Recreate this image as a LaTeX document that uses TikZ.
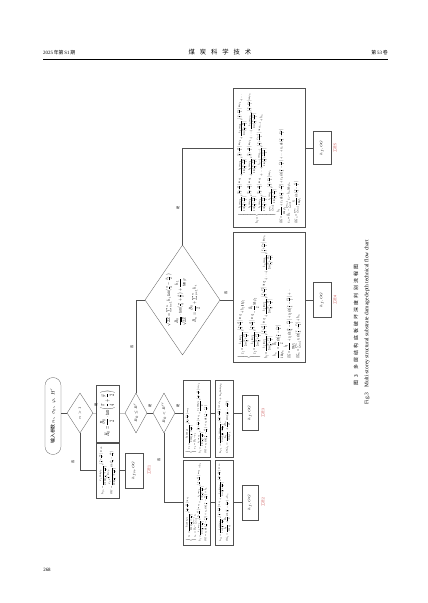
\documentclass[tikz,border=0pt]{standalone}
\usepackage{amsmath}
\usepackage{graphicx}
\usepackage{fontspec}
\setmainfont{Liberation Serif}
\newfontfamily\cjk{Noto Sans CJK SC}
\newfontfamily\cjkcap[LetterSpace=45]{Noto Sans CJK SC}
\usetikzlibrary{positioning,shapes,calc}
\definecolor{gkred}{RGB}{200,70,70}
\definecolor{ln}{RGB}{80,80,80}
\newlength\pu
\setlength\pu{0.05cm}
% terms used in the formula boxes
\newcommand{\tA}[1]{\frac{h_{#1}\cos\varphi_{#1}}{2\cos\left(\frac{\pi}{4}+\frac{\varphi_{#1}}{2}\right)}}
\newcommand{\tE}[1]{e^{\left(\frac{\pi}{4}+\frac{\varphi_{#1}}{2}\right)\tan\varphi_{#1}}}
\newcommand{\tS}[1]{\sin\left(\frac{\pi}{4}-\frac{\varphi_{#1}}{2}\right)}
% squeeze a block of formulas into #1 x #2 px
\newcommand{\fit}[3]{\resizebox*{#1\pu}{#2\pu}{\begin{tabular}{@{}l@{}}#3\end{tabular}}}
\tikzset{
  wh/.style 2 args={minimum width=#2*\pu, minimum height=#1*\pu},
  term/.style={draw=ln, rounded rectangle, rotate=90, inner sep=0pt, font=\cjk\fontsize{7}{8}\selectfont},
  box/.style={draw=ln, rectangle, rotate=90, inner sep=0pt, align=center, font=\fontsize{7}{8.5}\selectfont},
  dec/.style={draw=ln, diamond, rotate=90, inner sep=0pt, aspect=1.47, align=center, font=\fontsize{5}{6}\selectfont},
  res/.style={draw=ln, rectangle, rotate=90, inner sep=0pt, font=\fontsize{4.5}{5}\selectfont},
  yn/.style={rotate=90, inner sep=0.5pt, font=\cjk\fontsize{4.5}{5}\selectfont},
  gk/.style={rotate=90, inner sep=0pt, text=gkred, font=\cjk\fontsize{5}{6}\selectfont},
  con/.style={draw=ln, line width=0.45pt},
}
\begin{document}
\begin{tikzpicture}[x=0.05cm, y=-0.05cm]
\useasboundingbox[fill=white] (0,0) rectangle (427,603);

% running head
\node[anchor=base west, inner sep=0, font=\fontsize{7}{8}\selectfont] (issue) at (43,55) {2025\,{\cjk 年第}\,S1\,{\cjk 期}};
\node[anchor=base, inner sep=0, font=\cjk\fontsize{9}{10}\selectfont] (journal) at (220,55) {煤\hspace{7pt}炭\hspace{7pt}科\hspace{7pt}学\hspace{7pt}技\hspace{7pt}术};
\node[anchor=base east, inner sep=0, font=\fontsize{7}{8}\selectfont] (vol) at (388,55) {{\cjk 第}\,53\,{\cjk 卷}};
\draw[line width=0.9pt] (issue.base west |- 0,59) -- (vol.base east |- 0,59);

% flow chart
\node[term, wh={16}{77}] (start) at (53,416) {输入参数 $n$、$\sigma_0$、$\varphi$、$H'$};
\node[dec, wh={26}{40}] (n1) at (80,413) {$n>1$};
\node[box, wh={23}{57}] (h0) at (107.5,413.5)
  {\fit{46}{15}{$H_0=\dfrac{B_0}{2}\cdot\tan\left(\dfrac{\pi}{4}+\dfrac{\varphi}{2}\right)$}};
\node[box, wh={23}{55}] (fb1) at (107.5,470.5)
  {\fit{48}{17}{$h_{fn}=\dfrac{x_a\cos\varphi_0}{2\cos\left(\frac{\pi}{4}+\frac{\varphi_0}{2}\right)}\tE{0}$\\[3pt]
   $OG=\dfrac{x_a\,e^{\frac{\pi}{2}\tan\varphi_0}}{\cos\left(\frac{\pi}{4}+\frac{\varphi_0}{2}\right)}\tS{0}$}};
\node[res, wh={18}{35}] (r1) at (134,470.5) {$h_{fn}$, $OG$};
\node[gk] (g1) at (149,470) {工况 1};

\node[dec, wh={22}{40}] (d2) at (136,413) {$B_0\leq B'$};
\node[dec, wh={22}{40}] (d3) at (164,413) {$B_0<B''$};

\node[box, wh={27}{77}] (u1) at (196.5,418.5)
  {\fit{70}{22}{$\left\{\begin{array}{l}x_1=\dfrac{h_1\cos\varphi_1}{2\cos\left(\frac{\pi}{4}+\frac{\varphi_1}{2}\right)}\tE{1}\\[1pt]
   x_2=B_0-x_1\end{array}\right.$\\[3pt]
   $h_{f}=\tA{1}\tE{1}+\dfrac{x_2\cos\varphi_2}{2}\tE{2}$\\[3pt]
   $OG=x_1\tS{1}+x_2\tS{2}$}};
\node[box, wh={18}{77}] (u2) at (224,418.5)
  {\fit{70}{13}{$h_{f1}=\tA{1}\tE{1}+h_2\tan\varphi_2$\\[3pt]
   $OG_1=\dfrac{h_1}{\cos\varphi_1}+\dfrac{B_0}{2}\tS{2}$}};
\node[res, wh={16}{35}] (r3) at (250,413) {$h_{f}$, $OG$};
\node[gk] (g3) at (263,413) {工况 3};

\node[box, wh={27}{85}] (l1) at (196.5,502.5)
  {\fit{78}{22}{$\left\{\begin{array}{l}x_1=\dfrac{h_1\cos\varphi_1}{2\cos\left(\frac{\pi}{4}+\frac{\varphi_1}{2}\right)}\tE{1}\\[1pt]
   x_n=B_0-\sum_{i=1}^{n-1}x_i\end{array}\right.$\\[3pt]
   $h_{f}=\tA{1}\tE{1}+\tA{2}\tE{2}+h_3$\\[3pt]
   $OG=x_1\tS{1}+x_n\tS{n}+h_n$}};
\node[box, wh={18}{85}] (l2) at (224,502.5)
  {\fit{78}{13}{$h_{f2}=\tA{1}\tE{1}+\tA{n}\tE{n}$\\[3pt]
   $OG_2=\dfrac{h_1}{\cos\varphi_1}+\dfrac{B_0}{2}\tS{n}+h_n$}};
\node[res, wh={16}{35}] (r2) at (250,502.5) {$h_{f}$, $OG$};
\node[gk] (g2) at (263,502) {工况 2};

\node[dec, wh={75}{110}, font=\fontsize{7}{8.5}\selectfont] (d4) at (182.5,300)
  {\fit{52}{34}{$\sqrt{2Z}=\sum_{i=1}^{n}h_i\tan\left(\frac{\pi}{4}-\frac{\varphi_i}{2}\right)$\\[4pt]
   $\dfrac{B_0}{\sqrt{2Z}}\cdot\tan\left(\frac{\pi}{4}+\frac{\varphi}{2}\right)+\dfrac{h_1}{\tan\varphi}$\\[8pt]
   \quad$B_n=\dfrac{B_0}{2}+\sum_{i=1}^{n}h_i$}};

\node[box, wh={72}{139}] (bx5) at (269,157.5)
  {\fit{132}{64}{$h_f=\left\{\begin{array}{l}
   \tA{1}\tE{1}+\tA{2}\tE{2}+\tA{3}\tE{3}+\cdots\\[2pt]
   \tA{2}\tE{2}+\tA{3}\tE{3}+\cdots+\tA{n}\tE{n}\\[2pt]
   \tA{1}\tE{1}+\cdots+\tA{n-1}\tE{n-1}+h_n\\[2pt]
   \sum_{i=1}^{n}\tA{i}\tE{i}\end{array}\right.$\\[4pt]
   $OG=\dfrac{h_1}{\cos\varphi_1}+x_1\tS{1}+x_2\tS{2}+\cdots+x_n\tS{n}$\\[3pt]
   $x_n=B_0-\sum_{i=1}^{n-1}x_i-h_n\tan\varphi_n$\\[3pt]
   $OG_n=\sum_{i=1}^{n}\dfrac{x_i}{\cos\varphi_i}\tS{i}$}};
\node[res, wh={18}{33}] (r5) at (322,148) {$h_{f}$, $OG$};
\node[gk] (g5) at (335,148) {工况 5};

\node[box, wh={72}{130}] (bx4) at (269,297)
  {\fit{123}{64}{$\left\{\begin{array}{l}
   x_1=\tA{1}\tE{1}+h_1\tan\varphi_1\\[2pt]
   x_2=\tA{2}\tE{2}-\dfrac{B_0}{2}\tan\varphi_2\end{array}\right.$\\[4pt]
   $h_f=\tA{1}\tE{1}+\tA{2}\tE{2}+\cdots+\tA{n}\tE{n}$\\[3pt]
   $\dfrac{h_n}{\cos\varphi_n}=\dfrac{B_0}{2}\tS{n}$\\[3pt]
   $OG=\dfrac{h_1}{\cos\varphi_1}+x_1\tS{1}+x_2\tS{2}+\cdots$\\[3pt]
   $OG_n=\sum_{i=1}^{n}x_i\tS{i}+h_n$}};
\node[res, wh={18}{35}] (r4) at (322,300) {$h_{f}$, $OG$};
\node[gk] (g4) at (335,300) {工况 4};

% connectors
\draw[con] (start.south |- n1) -- (n1);
\draw[con] (n1) -- (h0);
\draw[con] (n1.west) |- (fb1);
\draw[con] (fb1) -- (r1);
\draw[con] (h0) -- (d2);
\draw[con] (d2) -- (d3);
\draw[con] (d3) -- (u1.north |- d3);
\draw[con] (u1.south |- d3) -- (u2.north |- d3);
\draw[con] (u2.south |- d3) -- (r3);
\draw[con] (d3.west) |- (l1);
\draw[con] (l1) -- (l2);
\draw[con] (l2) -- (r2);
\draw[con] (d2.east) |- (d4);
\draw[con] (d4.east) |- (bx5.north |- r5);
\draw[con] (bx5.south |- r5) -- (r5);
\draw[con] (d4) -- (bx4.north |- d4);
\draw[con] (bx4.south |- r4) -- (r4);

% yes / no labels
\node[yn] (y1) at (96,405) {是};
\node[yn] (f1) at (73,462) {否};
\node[yn] (y2) at (150,406) {是};
\node[yn] (f2) at (132,347) {否};
\node[yn] (y3) at (178,406) {是};
\node[yn] (f3) at (159,460) {否};
\node[yn] (y4) at (178,208) {是};
\node[yn] (f4) at (226,293) {否};

% caption
\node[rotate=90, inner sep=0, font=\cjkcap\fontsize{7}{8}\selectfont] (capzh) at (356,325) {图 3\quad 多层结构底板破坏深度判别流程图};
\node[rotate=90, inner sep=0, font=\fontsize{7.8}{8}\selectfont] (capen) at (367,322) {Fig.3\quad Multi-storey structural substrate damage depth technical flow chart};

% folio
\node[inner sep=0, font=\fontsize{7}{8}\selectfont] (folio) at (47,570) {268};
\end{tikzpicture}
\end{document}
